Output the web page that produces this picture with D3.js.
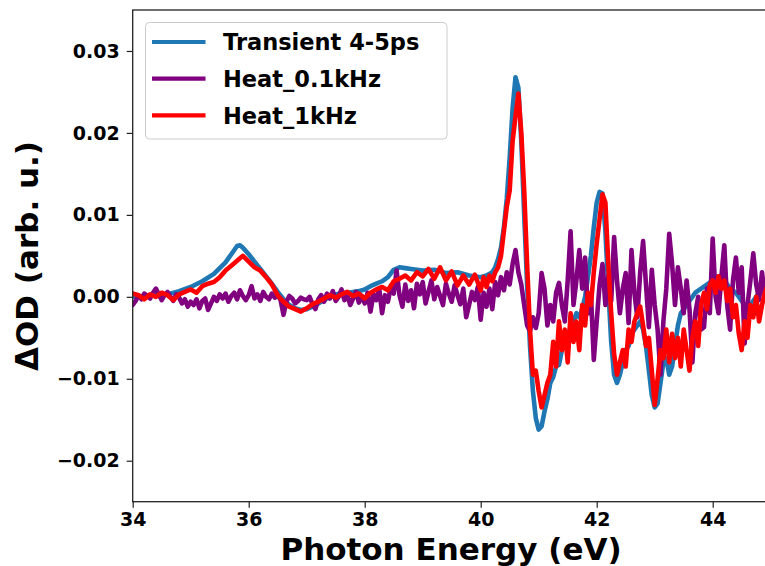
<!DOCTYPE html>
<html>
<head>
<meta charset="utf-8">
<script src="https://cdn.jsdelivr.net/npm/d3@7"></script>
<style>
  html, body { margin: 0; padding: 0; background: #fff; }
  svg { display: block; font-family: "DejaVu Sans", sans-serif; font-weight: bold; }
</style>
</head>
<body>
<svg id="chart" width="765" height="566"></svg>
<script>
// ---- Data (ΔOD values in units of 1e-3) ----
const seriesNames = ["Transient 4-5ps", "Heat_0.1kHz", "Heat_1kHz"];
const xTicks = [34, 36, 38, 40, 42, 44];
const yTicks = [-0.02, -0.01, 0.00, 0.01, 0.02, 0.03];

const transientE = [34.0,34.2,34.4,34.6,34.8,35.0,35.2,35.4,35.6,35.7,35.8,35.85,35.9,36.0,36.1,36.2,36.3,36.4,36.5,36.6,36.7,36.8,36.9,37.0,37.1,37.2,37.3,37.4,37.5,37.6,37.7,37.8,37.9,38.0,38.1,38.2,38.3,38.4,38.5,38.6,38.7,38.8,38.9,39.0,39.2,39.4,39.6,39.8,40.0,40.1,40.2,40.25,40.3,40.35,40.4,40.45,40.5,40.55,40.6,40.65,40.7,40.75,40.8,40.85,40.9,40.95,41.0,41.05,41.1,41.15,41.2,41.25,41.3,41.35,41.4,41.45,41.5,41.55,41.6,41.65,41.7,41.75,41.8,41.85,41.9,41.95,42.0,42.05,42.1,42.15,42.2,42.25,42.3,42.35,42.4,42.45,42.5,42.55,42.6,42.65,42.7,42.75,42.8,42.85,42.9,42.95,43.0,43.05,43.1,43.15,43.2,43.25,43.3,43.35,43.4,43.45,43.5,43.6,43.7,43.8,43.9,44.0,44.1,44.2,44.3,44.4,44.5,44.6,44.7,44.8,44.9,45.0];
const transientV = [0.0,0.1,0.2,0.3,0.7,1.2,1.9,2.8,4.2,5.2,6.2,6.3,6.0,5.2,4.3,3.4,2.5,1.6,0.6,-0.3,-1.0,-1.4,-1.6,-1.5,-1.2,-0.8,-0.4,0.0,0.3,0.4,0.5,0.6,0.7,0.9,1.3,1.6,1.9,2.4,3.3,3.6,3.5,3.4,3.3,3.2,3.3,2.9,3.0,2.6,2.4,2.6,3.0,3.6,4.6,6.0,8.5,12.0,17.0,23.0,26.8,25.5,19.0,10.0,1.5,-6.0,-11.5,-14.8,-16.2,-15.8,-14.0,-12.5,-10.5,-9.8,-8.5,-8.3,-6.5,-5.0,-5.5,-3.5,-3.0,-2.0,-2.5,-1.5,0.0,2.5,5.0,8.5,11.5,12.8,12.6,8.0,1.0,-5.5,-9.5,-10.5,-9.5,-8.0,-6.5,-6.0,-4.5,-4.0,-3.5,-3.0,-4.0,-6.0,-9.0,-12.0,-13.5,-13.0,-10.5,-8.0,-7.5,-9.5,-8.5,-6.0,-3.5,-2.0,-1.5,-0.5,0.5,1.0,1.5,2.0,2.5,2.0,1.0,0.5,-0.5,-1.5,-0.5,0.5,1.0,1.5];

// Heat_0.1kHz sampled every 0.05 eV from 34.00 eV
const heat01Start = 34.0, heat01Step = 0.05;
const heat01V = [
  -1.0,-0.5,0.2,-0.3,0.4,0.1,-0.2,0.5,1.0,0.3,-0.4,0.2,0.6,0.0,-0.5,0.3,-0.1,-0.8,-0.3,-1.2,
  -0.6,-1.0,-0.3,-1.4,-0.5,-0.2,-1.6,-0.8,0.0,-0.5,0.3,-0.2,0.4,-0.6,0.1,0.5,-0.3,0.8,0.1,-0.4,
  0.2,1.3,-0.2,0.3,-0.5,0.6,0.0,-0.3,0.4,-0.1,0.2,-0.4,-2.2,-0.6,0.1,-0.2,-0.8,-0.5,-0.1,-0.3,
  -0.4,0.0,-0.9,-1.5,-0.3,0.2,-0.6,0.4,-0.2,0.7,-0.5,0.0,0.9,-0.4,0.3,-1.0,-0.2,0.6,-0.7,0.1,
  -0.8,0.5,-1.8,0.3,-0.4,1.0,-2.0,0.2,-0.6,1.2,0.4,3.2,0.2,-1.2,1.5,-0.5,0.8,-1.4,1.6,0.3,
  1.8,-0.8,0.6,2.0,-0.3,1.2,0.1,-1.0,1.6,0.4,-0.6,1.4,0.2,-0.9,1.0,-2.5,-1.0,0.6,-0.4,1.2,
  -2.8,0.5,-1.2,1.0,-1.5,1.8,0.2,2.4,0.8,3.0,1.5,4.0,5.7,3.0,1.5,-1.0,-3.5,-4.2,-2.5,-3.8,
  -2.0,2.9,1.0,-3.5,-1.0,-3.0,0.5,1.7,-1.0,-3.0,2.0,8.0,-1.0,2.0,5.7,1.0,4.8,-2.0,0.5,-7.7,
  -3.0,1.5,4.0,-1.0,2.5,-0.5,7.3,2.0,-2.0,1.0,2.9,-3.2,5.7,0.5,-2.5,3.0,6.8,1.5,-3.7,3.3,
  -1.0,-4.0,-9.5,-3.0,1.0,7.7,4.0,-1.0,3.6,1.0,-2.0,2.0,-1.5,-8.0,-2.0,0.0,-4.0,-3.7,1.0,-2.0,
  7.1,0.0,-2.0,2.5,6.3,-1.0,-4.0,2.0,4.8,0.5,3.6,-5.7,-1.0,2.0,5.3,1.5,-0.4,3.0,0.0,1.0
];

const heat1E = [34.0,34.1,34.2,34.3,34.4,34.5,34.6,34.7,34.8,34.9,35.0,35.1,35.2,35.3,35.4,35.5,35.6,35.7,35.8,35.9,36.0,36.1,36.2,36.3,36.4,36.5,36.6,36.7,36.8,36.9,37.0,37.1,37.2,37.3,37.4,37.5,37.6,37.7,37.8,37.9,38.0,38.1,38.2,38.3,38.4,38.5,38.6,38.7,38.8,38.9,39.0,39.1,39.2,39.3,39.4,39.5,39.6,39.7,39.8,39.9,40.0,40.05,40.1,40.15,40.2,40.25,40.3,40.35,40.4,40.45,40.5,40.55,40.6,40.65,40.7,40.75,40.8,40.85,40.9,40.95,41.0,41.05,41.1,41.15,41.2,41.25,41.3,41.35,41.4,41.45,41.5,41.55,41.6,41.65,41.7,41.75,41.8,41.85,41.9,41.95,42.0,42.05,42.1,42.15,42.2,42.25,42.3,42.35,42.4,42.45,42.5,42.55,42.6,42.65,42.7,42.75,42.8,42.85,42.9,42.95,43.0,43.05,43.1,43.15,43.2,43.25,43.3,43.35,43.4,43.45,43.5,43.55,43.6,43.65,43.7,43.75,43.8,43.85,43.9,43.95,44.0,44.05,44.1,44.15,44.2,44.25,44.3,44.35,44.4,44.45,44.5,44.55,44.6,44.65,44.7,44.75,44.8,44.85,44.9,44.95];
const heat1V = [0.4,0.2,-0.3,0.3,0.0,0.5,0.2,-0.4,0.3,0.6,0.9,0.5,1.3,1.6,1.8,2.4,3.2,3.8,4.4,5.0,4.3,3.6,3.2,2.4,1.5,0.2,-0.6,-1.2,-1.5,-1.8,-1.4,-0.9,-0.6,-0.2,0.2,-0.1,0.3,0.6,0.1,0.4,-0.2,0.5,0.9,1.2,0.8,1.9,2.2,2.6,2.0,3.0,2.5,3.4,2.2,3.6,2.0,3.1,1.4,2.6,1.5,2.7,0.8,2.4,1.2,2.6,1.9,3.0,3.6,5.0,8.0,11.0,13.0,19.0,22.0,24.8,20.0,13.0,4.0,-4.0,-9.5,-9.0,-11.5,-13.5,-12.0,-10.5,-9.5,-5.5,-8.5,-3.0,-6.5,-4.0,-8.0,-2.0,-5.5,-3.0,-6.5,-1.0,-3.5,0.5,-1.0,3.0,6.5,9.5,12.5,11.5,4.0,-2.0,-7.0,-9.5,-8.0,-6.5,-8.5,-4.0,-5.5,-3.0,-2.0,-1.2,-3.5,-6.0,-5.0,-9.0,-13.2,-10.0,-6.5,-7.5,-4.0,-8.0,-4.5,-7.5,-5.0,-8.5,-4.0,-6.5,-9.0,-5.0,-3.0,-6.0,-1.0,0.5,-1.5,1.5,2.0,0.5,2.5,1.0,2.0,-0.5,1.0,-2.5,-1.0,-4.5,-6.5,-3.0,-5.0,-1.0,-2.5,0.0,-3.0,-1.0,0.5,1.5];

const colors = ["#1f77b4", "#800080", "#ff0000"];

// ---- Build series ----
const transient = transientE.map((e, i) => ({ e, v: transientV[i] / 1000 }));
const heat01 = heat01V.map((v, i) => ({ e: heat01Start + i * heat01Step, v: v / 1000 }));
const heat1 = heat1E.map((e, i) => ({ e, v: heat1V[i] / 1000 }));
const series = [transient, heat01, heat1];

// ---- Layout ----
const svg = d3.select("#chart");
const margin = { left: 132.7, top: 10 };
const plotW = 638, plotH = 491.7;

const x = d3.scaleLinear().domain([34, 45]).range([margin.left, margin.left + plotW]);
const y = d3.scaleLinear().domain([-0.025, 0.035]).range([margin.top + plotH, margin.top]);

svg.append("defs").append("clipPath").attr("id", "clip")
  .append("rect").attr("x", margin.left).attr("y", margin.top).attr("width", plotW).attr("height", plotH);

const line = d3.line().x(d => x(d.e)).y(d => y(d.v));

const g = svg.append("g").attr("clip-path", "url(#clip)");
series.forEach((s, i) => {
  g.append("path").datum(s)
    .attr("fill", "none")
    .attr("stroke", colors[i])
    .attr("stroke-width", 4.6)
    .attr("stroke-linejoin", "round")
    .attr("stroke-linecap", "round")
    .attr("d", line);
});

// ---- Axes ----
const xAxis = d3.axisBottom(x).tickValues(xTicks).tickSize(6).tickPadding(5).tickFormat(d3.format("d"));
const yAxis = d3.axisLeft(y).tickValues(yTicks).tickSize(6).tickPadding(7).tickFormat(d3.format(".2f"));

const gx = svg.append("g").attr("transform", `translate(0,${margin.top + plotH})`).call(xAxis);
const gy = svg.append("g").attr("transform", `translate(${margin.left},0)`).call(yAxis);
[gx, gy].forEach(a => {
  a.select(".domain").remove();
  a.selectAll(".tick line").attr("stroke", "#222").attr("stroke-width", 1.2);
  a.selectAll(".tick text").attr("fill", "#000").style("font-size", "19px").style("font-weight", "bold")
    .style("font-family", "'DejaVu Sans', sans-serif");
});
gx.selectAll(".tick text").attr("dy", "0.71em");

// spines
svg.append("rect")
  .attr("x", margin.left).attr("y", margin.top)
  .attr("width", plotW).attr("height", plotH)
  .attr("fill", "none").attr("stroke", "#222").attr("stroke-width", 1.3);

// axis labels
svg.append("text")
  .attr("x", 451).attr("y", 560)
  .attr("text-anchor", "middle")
  .style("font-size", "31px")
  .text("Photon Energy (eV)");

svg.append("text")
  .attr("transform", "translate(38,256) rotate(-90)")
  .attr("text-anchor", "middle")
  .style("font-size", "31px")
  .text("ΔOD (arb. u.)");

// ---- Legend ----
const lg = svg.append("g");
lg.append("rect")
  .attr("x", 145.5).attr("y", 22.5).attr("width", 301.5).attr("height", 116.5)
  .attr("rx", 4).attr("fill", "#fff").attr("fill-opacity", 0.8)
  .attr("stroke", "#cccccc").attr("stroke-width", 1);
seriesNames.forEach((name, i) => {
  const cy = 42 + i * 36.7;
  lg.append("line").attr("x1", 152).attr("x2", 205.5).attr("y1", cy).attr("y2", cy)
    .attr("stroke", colors[i]).attr("stroke-width", 4.2);
  lg.append("text").attr("x", 223).attr("y", cy + 8.2)
    .style("font-size", "22.5px").text(name);
});
</script>
</body>
</html>
